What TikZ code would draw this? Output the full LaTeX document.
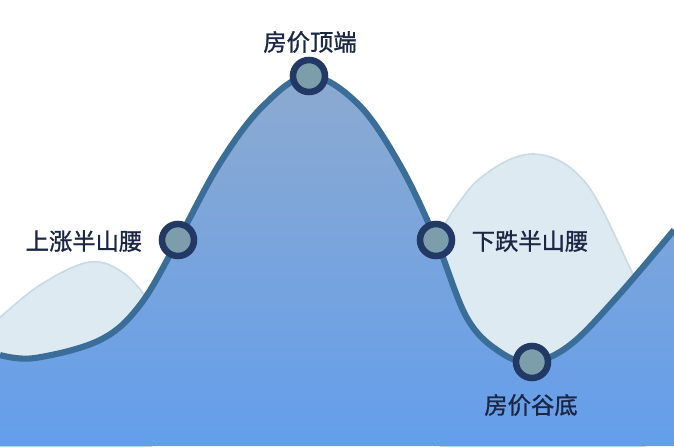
\documentclass[tikz,border=0pt]{standalone}
\usepackage{fontspec}
\setmainfont{Noto Sans CJK SC}
\newfontfamily\lblfont{Noto Sans CJK SC}[FakeBold=1.2]
\definecolor{hill}{RGB}{221,234,242}
\definecolor{hilledge}{RGB}{200,219,228}
\definecolor{curveline}{RGB}{58,109,152}
\definecolor{dotline}{RGB}{34,57,102}
\definecolor{dotfill}{RGB}{123,158,170}
\definecolor{labeltext}{RGB}{28,39,68}
\definecolor{filltop}{RGB}{140,170,208}
\definecolor{fillbot}{RGB}{100,158,235}
\tikzset{
  dot/.style={circle, draw=dotline, fill=dotfill, line width=4.9pt, minimum size=24pt, inner sep=0pt},
  lbl/.style={text=labeltext, font=\lblfont\fontsize{17.5}{20}\selectfont, inner sep=0pt},
  hillshape/.style={fill=hill, draw=hilledge, line width=1.2pt},
}
\begin{document}
\begin{tikzpicture}[x=0.75pt, y=-0.75pt]
\useasboundingbox (0,0) rectangle (674,446);
% background hills
\path[hillshape] plot[smooth, tension=0.6] coordinates {(-5,322) (40,285) (90,262) (125,274) (152,305)} -- (152,446) -- (-5,446) -- cycle;
\path[hillshape] plot[smooth, tension=0.6] coordinates {(440,232) (478,180) (533,154) (585,182) (632,272) (645,300)} -- (645,446) -- (440,446) -- cycle;
% main filled curve
\path[top color=filltop, bottom color=fillbot] plot[smooth, tension=0.6] coordinates {(0,355) (35,358) (100,340) (140,305) (178,240) (220,163) (263,106) (309,76) (358,104) (400,165) (436,240) (467,318) (500,352) (532,362) (570,345) (617,297) (674,230)} -- (674,446) -- (0,446) -- cycle;
\draw[curveline, line width=4.6pt] plot[smooth, tension=0.6] coordinates {(0,355) (35,358) (100,340) (140,305) (178,240) (220,163) (263,106) (309,76) (358,104) (400,165) (436,240) (467,318) (500,352) (532,362) (570,345) (617,297) (674,230)};
% points
\node[dot] (p1) at (178,240) {};
\node[dot] (p2) at (309,76) {};
\node[dot] (p3) at (436,240) {};
\node[dot] (p4) at (532,362) {};
% labels
\node[lbl] (l1) at (84,241) {上涨半山腰};
\node[lbl] (l2) at (310,42) {房价顶端};
\node[lbl] (l3) at (530,241) {下跌半山腰};
\node[lbl] (l4) at (531,405) {房价谷底};
\end{tikzpicture}
\end{document}
